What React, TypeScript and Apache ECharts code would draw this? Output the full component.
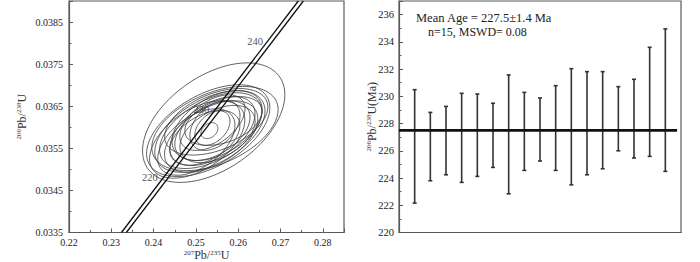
import React, { useEffect, useRef } from "react";
import * as echarts from "echarts";

// ---- Concordia diagram data (left) ----
const ellipseCx = [0.2542, 0.2529, 0.2545, 0.2533, 0.2535, 0.2503, 0.2548, 0.2539, 0.2539, 0.2539, 0.2501, 0.2565, 0.2521, 0.2545, 0.2539, 0.2532, 0.2551, 0.2536, 0.2550];
const ellipseCy = [0.03611, 0.03592, 0.03597, 0.0359, 0.03592, 0.03571, 0.03613, 0.03591, 0.03592, 0.03611, 0.03565, 0.03615, 0.03575, 0.03604, 0.03598, 0.03592, 0.03584, 0.03578, 0.03604];
const ellipseSx = [0.01682, 0.01457, 0.01493, 0.01303, 0.01209, 0.01126, 0.0122, 0.01007, 0.00889, 0.0077, 0.00912, 0.00912, 0.00829, 0.00592, 0.00415, 0.0020, 0.00889, 0.01102, 0.01066];
const ellipseSy = [0.00142, 0.00109, 0.001, 0.00097, 0.0009, 0.00092, 0.00079, 0.00082, 0.00071, 0.00066, 0.00079, 0.00058, 0.00065, 0.00059, 0.00041, 0.00019, 0.00068, 0.00085, 0.00083];
const ellipseRho = [0.47, 0.5, 0.45, 0.5, 0.5, 0.5, 0.45, 0.5, 0.45, 0.5, 0.5, 0.4, 0.45, 0.4, 0.4, 0.3, 0.45, 0.5, 0.45];

const concordiaInner = [[0.2324, 0.0335], [0.2742, 0.0390]];
const concordiaOuter = [[0.23355, 0.0335], [0.2754, 0.0390]];
const ageLabels = ["220", "230", "240"];
const ageLabelX = [0.2391, 0.2513, 0.2640];
const ageLabelY = [0.0348, 0.03642, 0.03804];

// ---- Weighted mean plot data (right) ----
const spotIndex = [1, 2, 3, 4, 5, 6, 7, 8, 9, 10, 11, 12, 13, 14, 15, 16, 17];
const ageHigh = [230.49, 228.82, 229.26, 230.22, 230.17, 229.49, 231.57, 230.29, 229.88, 230.78, 232.03, 231.81, 231.81, 230.71, 231.25, 233.6, 234.95];
const ageLow = [222.16, 223.8, 224.24, 223.68, 224.12, 224.78, 222.84, 224.56, 225.25, 224.56, 223.5, 224.24, 224.68, 226.0, 225.47, 225.59, 224.49];
const meanAge = 227.5;
const meanLineEnd = 17.75;
const annotation1 = "Mean Age = 227.5±1.4 Ma";
const annotation2 = "n=15, MSWD= 0.08";

const FONT = "'Liberation Serif', 'Times New Roman', serif";
const FRAME = "#5a5a5a";

const makeRich = (lh: number) => ({
  s: { fontSize: 7, fontFamily: FONT, color: "#333", verticalAlign: "top", lineHeight: lh },
  b: { fontSize: 12, fontFamily: FONT, color: "#333", lineHeight: lh },
});

export default function App() {
  const ref = useRef<HTMLDivElement>(null);
  useEffect(() => {
    if (!ref.current) return;
    const chart = echarts.init(ref.current, undefined, { renderer: "svg" });

    const ellipseData = ellipseCx.map((cx, i) => [cx, ellipseCy[i], ellipseSx[i], ellipseSy[i], ellipseRho[i]]);
    const barData = spotIndex.map((x, i) => [x, ageLow[i], ageHigh[i]]);
    const ageLabelData = ageLabels.map((t, i) => ({ value: [ageLabelX[i], ageLabelY[i]], name: t }));

    const axisLabelStyle = { fontFamily: FONT, fontSize: 10, color: "#222", lineHeight: 10 };
    const axisLine = { show: true, lineStyle: { color: FRAME, width: 1.2 } };
    const tickStyle = { show: true, inside: true, length: 4, lineStyle: { color: FRAME, width: 1 } };
    const minorStyle = { show: true, splitNumber: 2, length: 2.5, lineStyle: { color: FRAME, width: 1 } };

    chart.setOption({
      animation: false,
      grid: [
        { left: 69, top: 1, width: 275, height: 231.5, show: true, borderColor: FRAME, borderWidth: 1.2, backgroundColor: "transparent", containLabel: false, outerBoundsMode: "none" },
        { left: 399, top: 1, width: 282, height: 231.5, show: true, borderColor: FRAME, borderWidth: 1.2, backgroundColor: "transparent", containLabel: false, outerBoundsMode: "none" },
      ],
      xAxis: [
        {
          type: "value", gridIndex: 0, min: 0.22, max: 0.285, interval: 0.01,
          axisLine, axisTick: tickStyle, minorTick: minorStyle, splitLine: { show: false }, minorSplitLine: { show: false },
          axisLabel: { ...axisLabelStyle, margin: 5, showMaxLabel: false, formatter: (v: number) => v.toFixed(2) },
          name: "{s|207}{b|Pb/}{s|235}{b|U}", nameLocation: "middle", nameGap: 17, nameMoveOverlap: false,
          nameTextStyle: { rich: makeRich(10) },
        },
        {
          type: "value", gridIndex: 1, min: 0, max: 18,
          axisLine, axisTick: { show: false }, axisLabel: { show: false }, splitLine: { show: false },
        },
      ],
      yAxis: [
        {
          type: "value", gridIndex: 0, min: 0.0335, max: 0.039, interval: 0.001,
          axisLine, axisTick: tickStyle, minorTick: minorStyle, splitLine: { show: false }, minorSplitLine: { show: false },
          axisLabel: { ...axisLabelStyle, margin: 6, showMaxLabel: false, formatter: (v: number) => v.toFixed(4) },
          name: "{s|206}{b|Pb/}{s|238}{b|U}", nameLocation: "middle", nameGap: 40, nameRotate: 90, nameMoveOverlap: false,
          nameTextStyle: { rich: makeRich(14) },
        },
        {
          type: "value", gridIndex: 1, min: 220, max: 237, interval: 2,
          axisLine, axisTick: tickStyle, minorTick: minorStyle, splitLine: { show: false }, minorSplitLine: { show: false },
          axisLabel: { ...axisLabelStyle, fontSize: 10.5, margin: 5, showMaxLabel: false },
          name: "{s|206}{b|Pb/}{s|238}{b|U(Ma)}", nameLocation: "middle", nameGap: 20, nameRotate: 90, nameMoveOverlap: false,
          nameTextStyle: { rich: makeRich(14) },
        },
      ],
      graphic: [
        { type: "text", x: 416, y: 18, style: { text: annotation1, font: `12.5px ${FONT}`, fill: "#222", verticalAlign: "middle" } },
        { type: "text", x: 428, y: 32, style: { text: annotation2, font: `12px ${FONT}`, fill: "#222", verticalAlign: "middle" } },
      ],
      series: [
        {
          type: "custom", xAxisIndex: 0, yAxisIndex: 0, clip: true,
          data: ellipseData,
          encode: { x: 0, y: 1 },
          renderItem: (_p: any, api: any) => {
            const cx = api.value(0), cy = api.value(1), sx = api.value(2), sy = api.value(3), r = api.value(4);
            const pts: number[][] = [];
            const n = 90;
            const q = Math.sqrt(1 - r * r);
            for (let i = 0; i < n; i++) {
              const t = (i / n) * Math.PI * 2;
              pts.push(api.coord([cx + sx * Math.cos(t), cy + sy * (r * Math.cos(t) + q * Math.sin(t))]));
            }
            return { type: "polygon", shape: { points: pts }, style: { fill: "none", stroke: "#3a3a3a", lineWidth: 0.8 } };
          },
          z: 2,
        },
        {
          type: "line", xAxisIndex: 0, yAxisIndex: 0, data: concordiaInner, symbol: "none", clip: true,
          lineStyle: { color: "#111", width: 1.3 }, z: 3,
        },
        {
          type: "line", xAxisIndex: 0, yAxisIndex: 0, data: concordiaOuter, symbol: "none", clip: true,
          lineStyle: { color: "#111", width: 1.3 }, z: 3,
        },
        {
          type: "scatter", xAxisIndex: 0, yAxisIndex: 0, data: ageLabelData, symbolSize: 0,
          label: { show: true, position: "inside", formatter: (p: any) => p.name, fontFamily: FONT, fontSize: 10.5, color: "#222" },
          z: 4,
        },
        {
          type: "custom", xAxisIndex: 1, yAxisIndex: 1,
          data: barData,
          encode: { x: 0, y: [1, 2] },
          renderItem: (_p: any, api: any) => {
            const x = api.value(0);
            const top = api.coord([x, api.value(2)]);
            const bot = api.coord([x, api.value(1)]);
            const style = { stroke: "#333", lineWidth: 1.6 };
            return {
              type: "group",
              children: [
                { type: "line", shape: { x1: top[0], y1: top[1], x2: bot[0], y2: bot[1] }, style },
                { type: "line", shape: { x1: top[0] - 2, y1: top[1], x2: top[0] + 2, y2: top[1] }, style },
                { type: "line", shape: { x1: bot[0] - 2, y1: bot[1], x2: bot[0] + 2, y2: bot[1] }, style },
              ],
            };
          },
        },
        {
          type: "line", xAxisIndex: 1, yAxisIndex: 1, data: [[0, meanAge], [meanLineEnd, meanAge]], symbol: "none",
          lineStyle: { color: "#111", width: 2.6 }, z: 5,
        },
      ],
    });
    return () => chart.dispose();
  }, []);
  return <div ref={ref} style={{ position: "fixed", left: 0, top: 0, width: 700, height: 262, background: "#fff" }} />;
}
